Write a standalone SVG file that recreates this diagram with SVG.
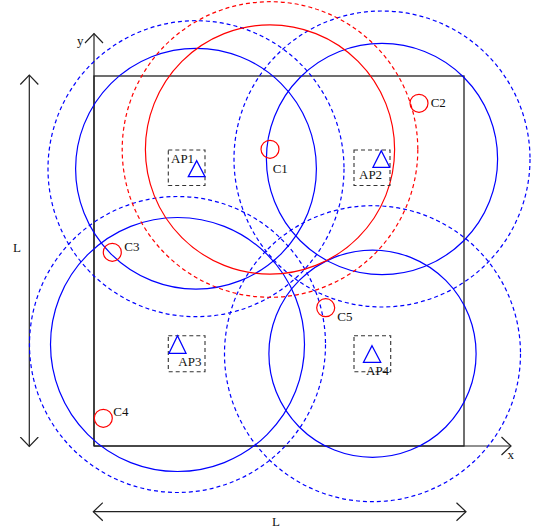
<svg xmlns="http://www.w3.org/2000/svg" width="537" height="531" viewBox="0 0 537 531">
<style>
text{font-family:"Liberation Serif","DejaVu Serif",serif;font-size:13px;fill:#111}
.sq{fill:none;stroke:#222;stroke-width:1.3}
.ax{fill:none;stroke:#222;stroke-width:1.2}
.bs{fill:none;stroke:#0000ff;stroke-width:1.2}
.bd{fill:none;stroke:#0000ff;stroke-width:1.2;stroke-dasharray:4 3}
.rs{fill:none;stroke:#ff0000;stroke-width:1.2}
.rd{fill:none;stroke:#ff0000;stroke-width:1.2;stroke-dasharray:4 3}
.box{fill:none;stroke:#333;stroke-width:1.1;stroke-dasharray:4 3}
.tri{fill:none;stroke:#0000ff;stroke-width:1.3}
.cl{fill:none;stroke:#ff0000;stroke-width:1.2}
</style>
<defs>
<marker id="chev" viewBox="-10 -10 20 20" markerWidth="20" markerHeight="20" markerUnits="userSpaceOnUse" refX="0" refY="0" orient="auto-start-reverse">
<path d="M-9.5,-9 L0,0 L-9.5,9" fill="none" stroke="#222" stroke-width="1.2"/>
</marker>
</defs>
<rect class="sq" x="94" y="76" width="370" height="370"/>
<g id="connectors">
<line class="ax" x1="94" y1="446" x2="94" y2="33.5" marker-end="url(#chev)"/>
<line class="ax" x1="94" y1="446" x2="511" y2="446" marker-end="url(#chev)"/>
<line class="ax" x1="29.3" y1="75" x2="29.3" y2="446.5" marker-start="url(#chev)" marker-end="url(#chev)"/>
<line class="ax" x1="93.3" y1="511.7" x2="466" y2="511.7" marker-start="url(#chev)" marker-end="url(#chev)"/>
<text x="77" y="45">y</text>
<text x="507.5" y="459">x</text>
<text x="13" y="252">L</text>
<text x="272" y="526">L</text>
</g>
<g id="coverage">
<circle class="bs" cx="196" cy="168.7" r="120.4"/>
<circle class="bd" cx="196" cy="168.7" r="148"/>
<circle class="bs" cx="382" cy="159" r="115.6"/>
<circle class="bd" cx="382" cy="159" r="148"/>
<circle class="bs" cx="177.5" cy="344.5" r="127"/>
<circle class="bd" cx="177.5" cy="344.5" r="148"/>
<circle class="bs" cx="372.5" cy="353.7" r="103.6"/>
<circle class="bd" cx="372.5" cy="353.7" r="148"/>
<circle class="rs" cx="270" cy="149.5" r="124.6"/>
<circle class="rd" cx="270" cy="149.5" r="147.8"/>
</g>
<g id="AP1">
<rect class="box" x="168.3" y="150" width="36.7" height="35.5"/>
<path class="tri" d="M196.7,160.7 L205,176.7 L188.3,176.7 Z"/>
<text x="171" y="163">AP1</text>
</g>
<g id="AP2">
<rect class="box" x="354" y="150" width="36" height="35.5"/>
<path class="tri" d="M381.3,150.7 L389.7,167.3 L373,167.3 Z"/>
<text x="359" y="179">AP2</text>
</g>
<g id="AP3">
<rect class="box" x="168.3" y="335.7" width="36.7" height="36"/>
<path class="tri" d="M177.5,335.7 L186,353.3 L169,353.3 Z"/>
<text x="178.3" y="365.7">AP3</text>
</g>
<g id="AP4">
<rect class="box" x="354" y="335.7" width="36.7" height="36"/>
<path class="tri" d="M372,345.7 L380.7,362.3 L363.5,362.3 Z"/>
<text x="366" y="375">AP4</text>
</g>
<g id="C1">
<circle class="cl" cx="270" cy="149.3" r="9"/>
<text x="272.7" y="172.7">C1</text>
</g>
<g id="C2">
<circle class="cl" cx="419" cy="103.3" r="9"/>
<text x="430.7" y="106.7">C2</text>
</g>
<g id="C3">
<circle class="cl" cx="112.3" cy="252.3" r="9"/>
<text x="124.3" y="250.7">C3</text>
</g>
<g id="C4">
<circle class="cl" cx="103.3" cy="418.3" r="9"/>
<text x="113.3" y="416">C4</text>
</g>
<g id="C5">
<circle class="cl" cx="325.7" cy="307.7" r="9"/>
<text x="337.3" y="320.7">C5</text>
</g>
</svg>
